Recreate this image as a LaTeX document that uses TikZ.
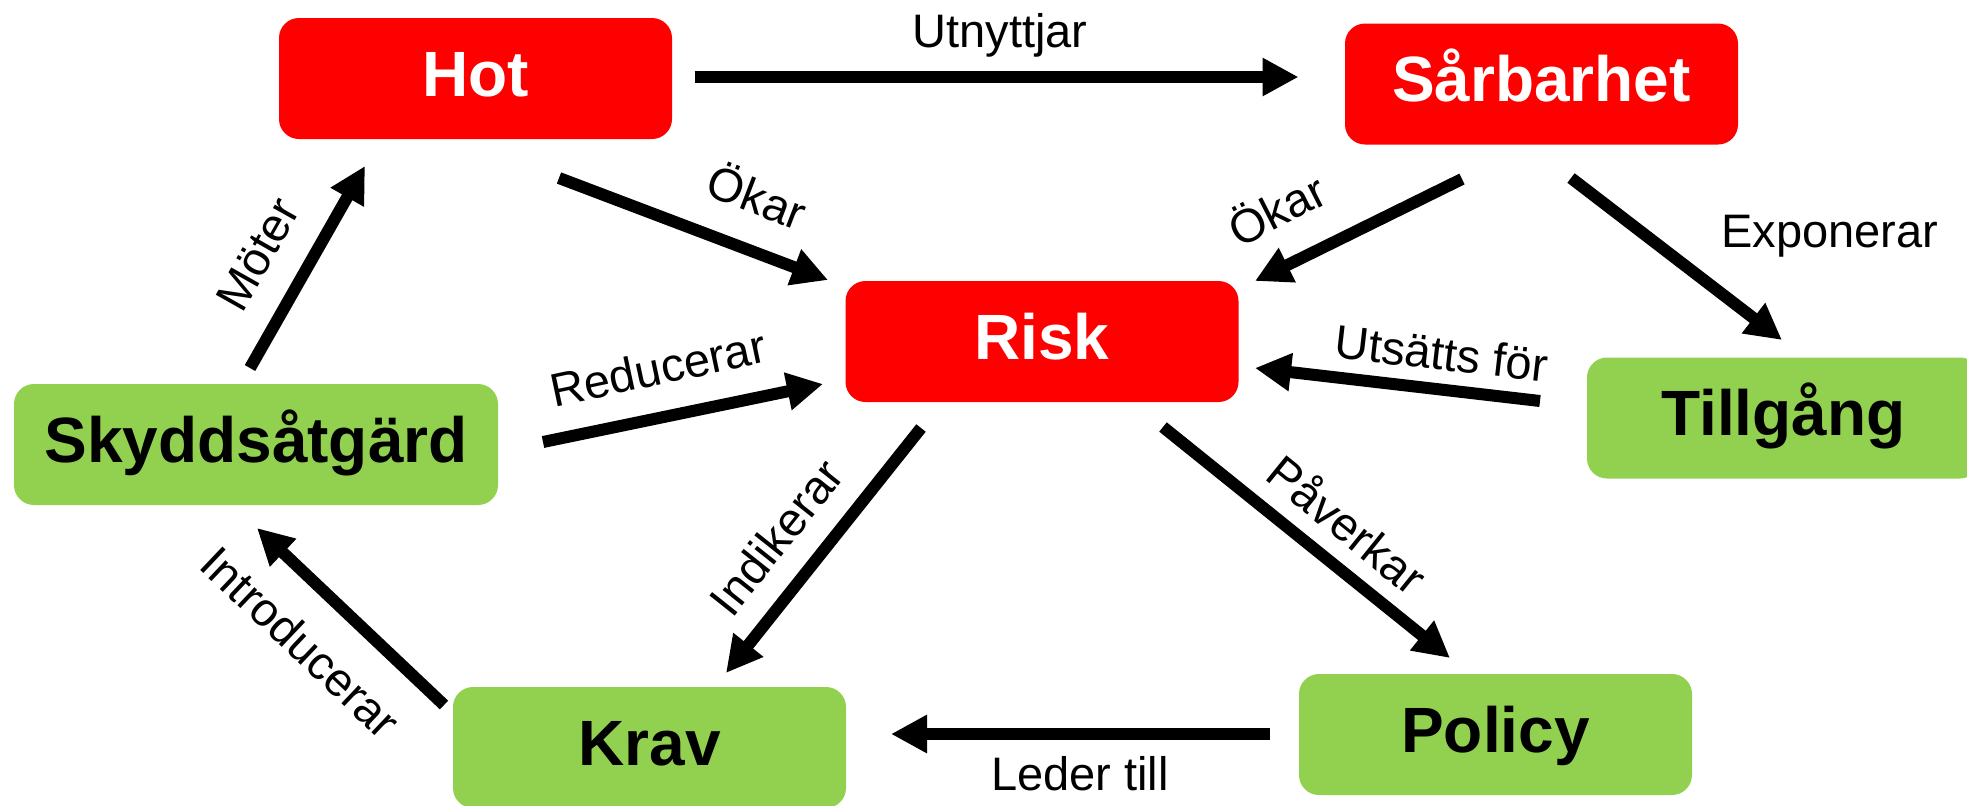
\documentclass[tikz,border=0pt]{standalone}
\usepackage{fontspec}
\setmainfont{Liberation Sans}
\usetikzlibrary{arrows.meta,calc}
\definecolor{boxred}{RGB}{255,0,0}
\definecolor{boxgreen}{RGB}{146,208,80}
\tikzset{
  box/.style={rounded corners=10pt, minimum height=60.5pt, minimum width=196.5pt,
    inner sep=0pt, font=\fontsize{32}{36}\selectfont\bfseries,
    text height=23pt, text depth=5.1pt},
  redbox/.style={box, fill=boxred, text=white},
  greenbox/.style={box, fill=boxgreen, text=black},
  lbl/.style={inner sep=0pt, font=\fontsize{23.5}{26}\selectfont,
    text height=16.9pt, text depth=0pt},
  arr/.style={line width=6pt, -{Triangle[length=18pt,width=18pt]}}
}
\begin{document}
\begin{tikzpicture}[x=0.5pt,y=-0.5pt]
\useasboundingbox (0,0) rectangle (1967,805);
% nodes
\node[redbox] (hot) at (475.5,78.5) {Hot};
\node[redbox] (sar) at (1541.5,84) {Sårbarhet};
\node[redbox] (risk) at (1042,341.5) {Risk};
\node[greenbox] (till) at (1783.5,418) {Tillgång};
\node[greenbox, minimum width=242pt] (skydd) at (256,444.5) {Skyddsåtgärd};
\node[greenbox] (krav) at (649.5,747.5) {Krav};
\node[greenbox] (policy) at (1495.5,734.5) {Policy};
% connectors
\draw[arr] ($(hot)+(219,-1.5)$) -- ($(sar)+(-243,-7)$);
\draw[arr] ($(hot)+(83.5,99.5)$) -- ($(risk)+(-214,-61.5)$);
\draw[arr] ($(sar)+(-79.5,95)$) -- ($(risk)+(213,-60.5)$);
\draw[arr] ($(sar)+(29.5,94)$) -- ($(till)+(-1.5,-78)$);
\draw[arr] ($(till)+(-243.5,-17)$) -- ($(risk)+(213,26.5)$);
\draw[arr] ($(skydd)+(287,-2.5)$) -- ($(risk)+(-219,42.5)$);
\draw[arr] ($(skydd)+(-6,-76.5)$) -- ($(hot)+(-110.5,87.5)$);
\draw[arr] ($(krav)+(-205.5,-42.5)$) -- ($(skydd)+(1,83.5)$);
\draw[arr] ($(risk)+(-121,86.5)$) -- ($(krav)+(76.5,-74.5)$);
\draw[arr] ($(risk)+(121,85.5)$) -- ($(policy)+(-45.5,-76.5)$);
\draw[arr] ($(policy)+(-225.5,-0.5)$) -- ($(krav)+(241.5,-13.5)$);
% labels
\node[lbl] (l1) at (1000,31) {Utnyttjar};
\node[lbl, rotate=-21] (l2) at (757,197) {Ökar};
\node[lbl, rotate=27] (l3) at (1277,210) {Ökar};
\node[lbl] (l4) at (1830,231) {Exponerar};
\node[lbl, rotate=-6.5] (l5) at (1442,353) {Utsätts för};
\node[lbl, rotate=12] (l6) at (658,368) {Reducerar};
\node[lbl, rotate=60.5] (l7) at (257,254) {Möter};
\node[lbl, rotate=-43.5] (l8) at (301,642) {Introducerar};
\node[lbl, rotate=51.5] (l9) at (776,537) {Indikerar};
\node[lbl, rotate=-39] (l10) at (1347,525) {Påverkar};
\node[lbl] (l11) at (1080,774) {Leder till};
\end{tikzpicture}
\end{document}
